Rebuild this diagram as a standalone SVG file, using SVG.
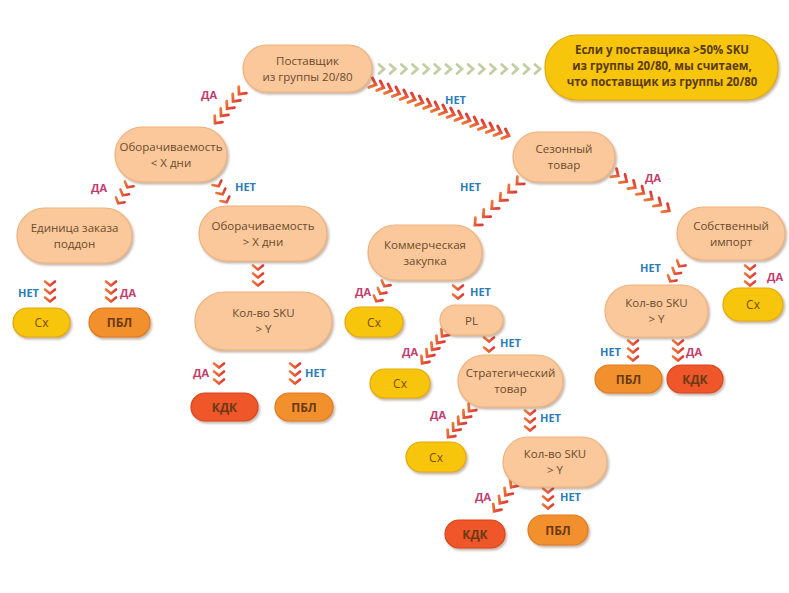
<svg xmlns="http://www.w3.org/2000/svg" width="789" height="593" viewBox="0 0 789 593">
<defs>
<filter id="sh" x="-20%" y="-30%" width="140%" height="170%">
<feDropShadow dx="1.5" dy="2" stdDeviation="1.2" flood-color="#7a5a40" flood-opacity="0.45"/>
</filter>
<linearGradient id="cg" x1="0" y1="0" x2="0" y2="1">
<stop offset="0" stop-color="#dc3a36"/>
<stop offset="1" stop-color="#ee7a3a"/>
</linearGradient>
<marker id="cvL" viewBox="-8 -8 16 16" markerWidth="16" markerHeight="16" markerUnits="userSpaceOnUse" orient="auto" refX="0" refY="0">
<path d="M-3.5,-5 L2,0 L-3.5,5" fill="none" stroke="url(#cg)" stroke-width="3" stroke-linecap="round"/>
</marker>
<marker id="cvD" viewBox="-8 -8 16 16" markerWidth="16" markerHeight="16" markerUnits="userSpaceOnUse" orient="auto" refX="0" refY="0">
<path d="M-4,-5 L1.5,0 L-4,5" fill="none" stroke="url(#cg)" stroke-width="2.8" stroke-linecap="round"/>
</marker>
<marker id="cvS" viewBox="-8 -8 16 16" markerWidth="16" markerHeight="16" markerUnits="userSpaceOnUse" orient="auto" refX="0" refY="0">
<path d="M-2.5,-5 L1.5,0 L-2.5,5" fill="none" stroke="url(#cg)" stroke-width="2.6" stroke-linecap="round"/>
</marker>
<marker id="cvG" viewBox="-8 -8 16 16" markerWidth="16" markerHeight="16" markerUnits="userSpaceOnUse" orient="auto" refX="0" refY="0">
<path d="M-3,-4.5 L2,0 L-3,4.5" fill="none" stroke="#c3cfa2" stroke-width="2.8" stroke-linecap="round"/>
</marker>
</defs>
<style>
.pe{fill:#fac89a;stroke:#eeb27e;stroke-width:1.2;filter:url(#sh)}
.ye{fill:#f8c50f;stroke:#e2a906;stroke-width:1.2;filter:url(#sh)}
.or{fill:#f2902f;stroke:#df7a20;stroke-width:1.2;filter:url(#sh)}
.rd{fill:#ef5729;stroke:#d9441c;stroke-width:1.2;filter:url(#sh)}
.t{font-family:"Open Sans","Noto Sans","DejaVu Sans",sans-serif;font-size:11.5px;fill:#6b4a2e;text-anchor:middle}
.ts{font-family:"Open Sans","Noto Sans","DejaVu Sans",sans-serif;font-size:12px;font-weight:bold;fill:#6a3a14;text-anchor:middle}
.tc{font-family:"Open Sans","Noto Sans","DejaVu Sans",sans-serif;font-size:12px;fill:#7a4a10;text-anchor:middle}
.ti{font-family:"Open Sans","Noto Sans","DejaVu Sans",sans-serif;font-size:11.5px;font-weight:bold;fill:#5a3a10;text-anchor:middle}
.da{font-family:"Open Sans","Noto Sans","DejaVu Sans",sans-serif;font-size:11px;font-weight:bold;fill:#c23d6c}
.net{font-family:"Open Sans","Noto Sans","DejaVu Sans",sans-serif;font-size:11px;font-weight:bold;fill:#2c7db6}
.cL{fill:none;stroke:none;marker-start:url(#cvL);marker-mid:url(#cvL);marker-end:url(#cvL)}
.cD{fill:none;stroke:none;marker-start:url(#cvD);marker-mid:url(#cvD);marker-end:url(#cvD)}
.cS{fill:none;stroke:none;marker-start:url(#cvS);marker-mid:url(#cvS);marker-end:url(#cvS)}
.cG{fill:none;stroke:none;marker-start:url(#cvG);marker-mid:url(#cvG);marker-end:url(#cvG)}
</style>
<rect width="789" height="593" fill="#ffffff"/>

<g id="connectors">
<path class="cG" d="M382,69 L393.1,69 L404.3,69 L415.4,69 L426.6,69 L437.7,69 L448.9,69 L460,69 L471.1,69 L482.3,69 L493.4,69 L504.6,69 L515.7,69 L526.9,69 L538,69"/>
<path class="cL" d="M374,84 L381.8,87 L389.6,90 L397.5,93 L405.3,96 L413.1,99 L420.9,102 L428.8,105 L436.6,108 L444.4,111 L452.2,114 L460.1,117 L467.9,120 L475.7,123 L483.5,126 L491.4,129 L499.2,132 L507,135"/>
<path class="cD" d="M240,93 L234,100.25 L228,107.5 L222,114.75 L216,122"/>
<path class="cD" d="M518,183 L509.6,191.2 L501.2,199.4 L492.8,207.6 L484.4,215.8 L476,224"/>
<path class="cD" d="M617,175 L625.5,180.8 L634,186.7 L642.5,192.5 L651,198.3 L659.5,204.2 L668,210"/>
<path class="cS" d="M128,186 L123.5,194 L119,202"/>
<path class="cS" d="M218,185 L222,193 L226,201"/>
<path class="cS" d="M50,284 L50,292 L50,300"/>
<path class="cS" d="M111,284 L111,292 L111,300"/>
<path class="cS" d="M258,268 L258,276 L258,284"/>
<path class="cS" d="M219,366 L219,374 L219,382"/>
<path class="cS" d="M295,366 L295,374 L295,382"/>
<path class="cS" d="M385,285 L381,292.5 L377,300"/>
<path class="cS" d="M458,288 L458,297"/>
<path class="cD" d="M443,335 L438,341.75 L433,348.5 L428,355.25 L423,362"/>
<path class="cS" d="M489,340 L489,350"/>
<path class="cD" d="M470,410 L464.75,416.5 L459.5,423 L454.25,429.5 L449,436"/>
<path class="cS" d="M530,413 L530,421 L530,429"/>
<path class="cD" d="M512,486 L506.3,494 L500.7,502 L495,510"/>
<path class="cS" d="M548,491 L548,499 L548,507"/>
<path class="cS" d="M680,265 L675.5,272.5 L671,280"/>
<path class="cS" d="M750,268 L750,276 L750,284"/>
<path class="cS" d="M633,343 L633,351 L633,359"/>
<path class="cS" d="M678,343 L678,351 L678,359"/>
</g>

<g id="labels">
<text class="da" x="201" y="99">ДА</text>
<text class="net" x="445" y="104">НЕТ</text>
<text class="da" x="91" y="192">ДА</text>
<text class="net" x="235" y="191">НЕТ</text>
<text class="net" x="18" y="297">НЕТ</text>
<text class="da" x="120" y="297">ДА</text>
<text class="da" x="193" y="377">ДА</text>
<text class="net" x="305" y="377">НЕТ</text>
<text class="net" x="460" y="191">НЕТ</text>
<text class="da" x="645" y="182">ДА</text>
<text class="da" x="355" y="296">ДА</text>
<text class="net" x="470" y="296">НЕТ</text>
<text class="da" x="402" y="356">ДА</text>
<text class="net" x="500" y="347">НЕТ</text>
<text class="da" x="430" y="419">ДА</text>
<text class="net" x="540" y="422">НЕТ</text>
<text class="da" x="475" y="501">ДА</text>
<text class="net" x="560" y="501">НЕТ</text>
<text class="net" x="640" y="272">НЕТ</text>
<text class="da" x="767" y="281">ДА</text>
<text class="net" x="600" y="356">НЕТ</text>
<text class="da" x="686" y="356">ДА</text>
</g>

<g id="n1"><rect class="pe" x="243" y="45" width="129" height="47" rx="23.5"/><text class="t" x="307.5" y="64.5">Поставщик</text><text class="t" x="307.5" y="80.5">из группы 20/80</text></g>
<g id="n2"><rect class="ye" x="545" y="35" width="233" height="65" rx="32"/><text class="ti" x="662" y="54">Если у поставщика &gt;50% SKU</text><text class="ti" x="662" y="70">из группы 20/80, мы считаем,</text><text class="ti" x="662" y="86">что поставщик из группы 20/80</text></g>
<g id="n3"><rect class="pe" x="115" y="127" width="112" height="55" rx="27.5"/><text class="t" x="171" y="150.5">Оборачиваемость</text><text class="t" x="171" y="166.5">&lt; X дни</text></g>
<g id="n4"><rect class="pe" x="17" y="208" width="115" height="55" rx="27.5"/><text class="t" x="74.5" y="231.5">Единица заказа</text><text class="t" x="74.5" y="247.5">поддон</text></g>
<g id="n5"><rect class="ye" x="13" y="308" width="57" height="29" rx="14.5"/><text class="tc" x="41.5" y="327">Сх</text></g>
<g id="n6"><rect class="or" x="89" y="308" width="61" height="29" rx="14.5"/><text class="ts" x="119.5" y="327">ПБЛ</text></g>
<g id="n7"><rect class="pe" x="199" y="206" width="128" height="55" rx="27.5"/><text class="t" x="263" y="229.5">Оборачиваемость</text><text class="t" x="263" y="245.5">&gt; X дни</text></g>
<g id="n8"><rect class="pe" x="195" y="292" width="137" height="58" rx="29"/><text class="t" x="263.5" y="317">Кол-во SKU</text><text class="t" x="263.5" y="333">&gt; Y</text></g>
<g id="n9"><rect class="rd" x="191" y="393" width="67" height="28" rx="14"/><text class="ts" x="224.5" y="411.5">КДК</text></g>
<g id="n10"><rect class="or" x="275" y="393" width="58" height="28" rx="14"/><text class="ts" x="304" y="411.5">ПБЛ</text></g>
<g id="n11"><rect class="pe" x="513" y="132" width="102" height="50" rx="25"/><text class="t" x="564" y="153">Сезонный</text><text class="t" x="564" y="169">товар</text></g>
<g id="n12"><rect class="pe" x="368" y="225" width="114" height="55" rx="27.5"/><text class="t" x="425" y="248.5">Коммерческая</text><text class="t" x="425" y="264.5">закупка</text></g>
<g id="n13"><rect class="ye" x="345" y="307" width="58" height="30" rx="15"/><text class="tc" x="374" y="326.5">Сх</text></g>
<g id="n14"><rect class="pe" x="440" y="305" width="63" height="30" rx="15"/><text class="t" x="471.5" y="324.5">PL</text></g>
<g id="n15"><rect class="pe" x="458" y="355" width="105" height="52" rx="26"/><text class="t" x="510.5" y="377">Стратегический</text><text class="t" x="510.5" y="393">товар</text></g>
<g id="n16"><rect class="ye" x="370" y="369" width="60" height="29" rx="14.5"/><text class="tc" x="400" y="388">Сх</text></g>
<g id="n17"><rect class="ye" x="406" y="442" width="60" height="30" rx="15"/><text class="tc" x="436" y="461.5">Сх</text></g>
<g id="n18"><rect class="pe" x="503" y="437" width="104" height="50" rx="25"/><text class="t" x="555" y="458">Кол-во SKU</text><text class="t" x="555" y="474">&gt; Y</text></g>
<g id="n19"><rect class="rd" x="445" y="520" width="60" height="28" rx="14"/><text class="ts" x="475" y="538.5">КДК</text></g>
<g id="n20"><rect class="or" x="528" y="515" width="60" height="30" rx="15"/><text class="ts" x="558" y="534.5">ПБЛ</text></g>
<g id="n21"><rect class="pe" x="677" y="207" width="108" height="53" rx="26.5"/><text class="t" x="731" y="229.5">Собственный</text><text class="t" x="731" y="245.5">импорт</text></g>
<g id="n22"><rect class="ye" x="723" y="288" width="60" height="33" rx="16.5"/><text class="tc" x="753" y="309">Сх</text></g>
<g id="n23"><rect class="pe" x="605" y="285" width="103" height="52" rx="26"/><text class="t" x="656.5" y="307">Кол-во SKU</text><text class="t" x="656.5" y="323">&gt; Y</text></g>
<g id="n24"><rect class="or" x="595" y="365" width="67" height="28" rx="14"/><text class="ts" x="628.5" y="383.5">ПБЛ</text></g>
<g id="n25"><rect class="rd" x="667" y="365" width="56" height="28" rx="14"/><text class="ts" x="695" y="383.5">КДК</text></g>
</svg>
